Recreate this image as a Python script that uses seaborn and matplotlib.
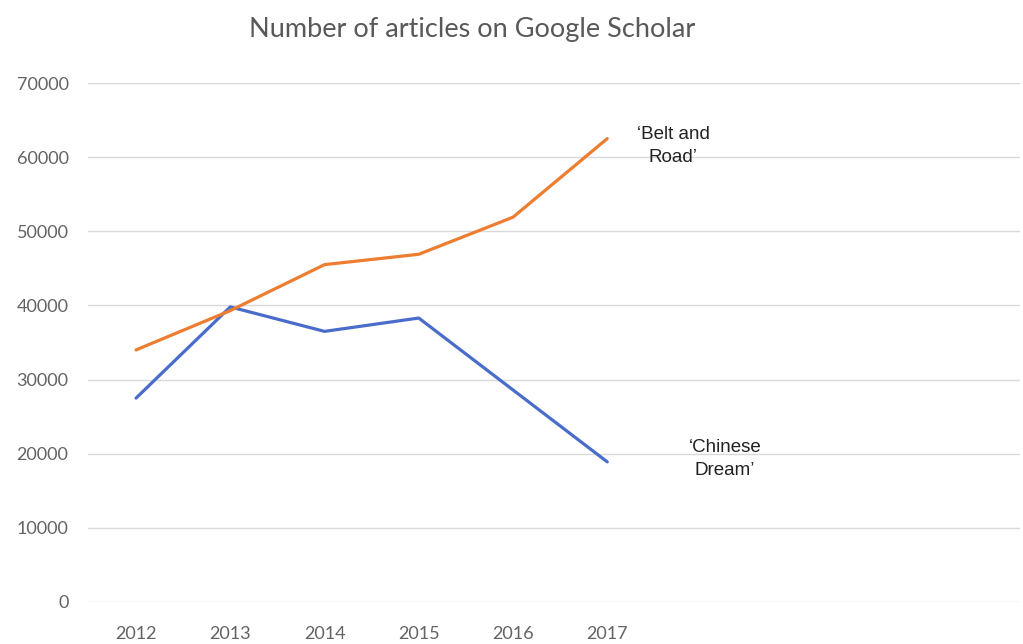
import numpy as np
import pandas as pd
import matplotlib.pyplot as plt
import seaborn as sns

years = [2012, 2013, 2014, 2015, 2016, 2017]
belt_and_road = [34000, 39300, 45500, 46900, 51900, 62500]
chinese_dream = [27500, 39800, 36500, 38300, 28600, 18900]
y_ticks = [0, 10000, 20000, 30000, 40000, 50000, 60000, 70000]

sns.set_style("white")
plt.rcParams['font.family'] = ['Lato', 'DejaVu Sans']

fig = plt.figure(figsize=(10.23, 6.44), dpi=100)
ax = fig.add_axes([88 / 1023, 1 - 602 / 644, (1020 - 88) / 1023, (602 - 83) / 644])

sns.lineplot(x=years, y=chinese_dream, color="#4a6ccb", linewidth=2.3, ax=ax)
sns.lineplot(x=years, y=belt_and_road, color="#ed7d31", linewidth=2.3, ax=ax)

ax.set_xlim(2011.49, 2021.38)
ax.set_ylim(0, 70000)
ax.set_xticks(years)
ax.set_xticklabels([str(y) for y in years])
ax.set_yticks(y_ticks)
ax.set_yticklabels([str(v) for v in y_ticks])
ax.tick_params(axis="both", length=0, labelsize=13, labelcolor="#636363")
ax.tick_params(axis="y", pad=14)
ax.tick_params(axis="x", pad=17)
ax.yaxis.grid(True, color="#d9d9d9", linewidth=1)
ax.set_axisbelow(True)
for s in ax.spines.values():
    s.set_visible(False)

ax.text(2017.7, 61450, "\u2018Belt and\nRoad\u2019", ha="center", va="center",
        fontsize=13.5, family="Liberation Sans", color="#222222", linespacing=1.45)
ax.text(2018.25, 19300, "\u2018Chinese\nDream\u2019", ha="center", va="center",
        fontsize=13.5, family="Liberation Sans", color="#222222", linespacing=1.45)

fig.text(472 / 1023, 1 - 30 / 644, "Number of articles on Google Scholar",
         ha="center", va="center", fontsize=19.5, color="#595959")

fig.savefig("out.png", dpi=100)
